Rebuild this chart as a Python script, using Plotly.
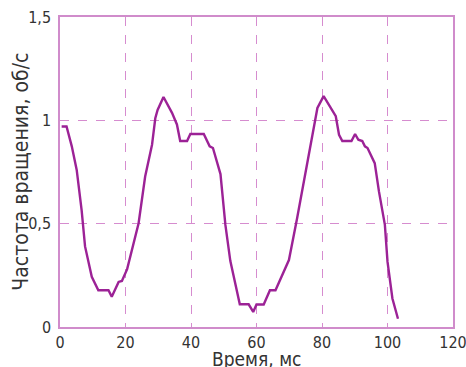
import plotly.graph_objects as go

# Time, ms
time_ms = [0.5, 2.0, 3.6, 5.1, 6.6, 7.65, 9.7, 11.7, 14.8, 15.8, 17.9, 18.9, 20.5,
           22.4, 24.0, 26.0, 28.1, 29.1, 29.8, 31.6, 34.2, 35.7, 36.7, 38.8, 39.8,
           43.9, 45.7, 46.7, 49.0, 50.5, 52.0, 54.9, 57.6, 59.0, 60.0, 62.2, 64.1,
           65.8, 69.9, 72.4, 75.5, 78.6, 80.5, 84.2, 85.2, 86.2, 89.0, 90.1, 91.1,
           92.3, 93.1, 93.9, 96.1, 97.4, 99.2, 100.0, 101.5, 103.2]
# Rotation frequency, rev/s
freq = [0.97, 0.97, 0.874, 0.76, 0.566, 0.39, 0.243, 0.178, 0.178, 0.146, 0.218, 0.223, 0.28,
        0.393, 0.502, 0.728, 0.882, 1.01, 1.05, 1.113, 1.036, 0.98, 0.90, 0.90, 0.934,
        0.934, 0.874, 0.866, 0.74, 0.494, 0.32, 0.11, 0.11, 0.073, 0.109, 0.109, 0.178,
        0.178, 0.324, 0.526, 0.785, 1.06, 1.117, 1.02, 0.93, 0.90, 0.90, 0.934, 0.906,
        0.90, 0.874, 0.866, 0.793, 0.655, 0.494, 0.316, 0.138, 0.04]

x_ticks = [0, 20, 40, 60, 80, 100, 120]
y_ticks = [0, 0.5, 1, 1.5]
y_tick_labels = ["0", "0,5", "1", "1,5"]
x_title = "Время, мс"
y_title = "Частота вращения, об/с"

line_color = "#9c2296"
frame_color = "#d08ccb"
grid_color = "#d68ccf"
text_color = "#333333"
font_family = "DejaVu Sans Condensed, Roboto, Liberation Sans, sans-serif"

fig = go.Figure()
fig.add_trace(go.Scatter(
    x=time_ms, y=freq, mode="lines",
    line=dict(color=line_color, width=2.4),
    hoverinfo="skip", showlegend=False,
))

axis_common = dict(
    showline=True, linecolor=frame_color, linewidth=1.5, mirror=True,
    showgrid=True, gridcolor=grid_color, griddash="dash", gridwidth=1,
    zeroline=False, ticks="", automargin=False, ticklabeloverflow="allow",
    tickfont=dict(size=16, family=font_family, color=text_color),
)

fig.update_layout(
    width=466, height=367,
    margin=dict(l=60, r=13, t=17, b=40, autoexpand=False),
    paper_bgcolor="white", plot_bgcolor="white",
    font=dict(family=font_family, color=text_color, size=16),
    xaxis=dict(range=[0, 120], tickvals=x_ticks, ticklabelstandoff=0, **axis_common),
    yaxis=dict(range=[0, 1.5], tickvals=y_ticks, ticktext=y_tick_labels,
               ticklabelstandoff=4, **axis_common),
    annotations=[
        dict(text=x_title, xref="paper", yref="paper", x=0.5, y=-0.06,
             xanchor="center", yanchor="top", showarrow=False,
             font=dict(size=19, family=font_family, color=text_color)),
        dict(text=y_title, xref="paper", yref="paper", x=-0.1, y=0.5,
             xanchor="center", yanchor="middle", showarrow=False, textangle=-90,
             font=dict(size=21, family=font_family, color=text_color)),
    ],
)

fig.write_html("out.html")
